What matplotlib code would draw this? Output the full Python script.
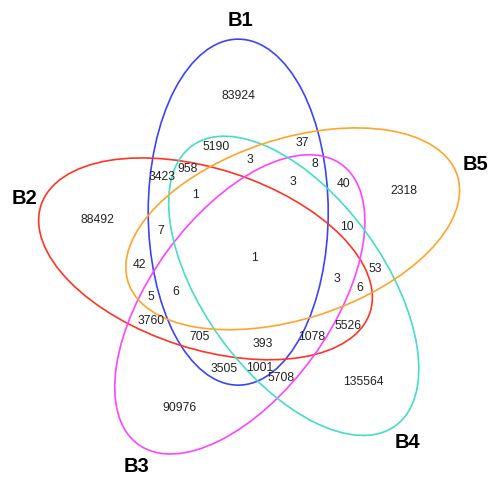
import matplotlib
matplotlib.use("Agg")
import matplotlib.pyplot as plt
from matplotlib.patches import Ellipse
import numpy as np

# ---- data ----
set_names = ["B1", "B2", "B3", "B4", "B5"]
set_colors = ["#3a45f5", "#ff3426", "#ff44ff", "#45dccb", "#ffa52a"]

region_counts = [83924, 5190, 37, 3, 958, 8, 3423, 3, 40, 2318, 1, 88492, 7, 10,
                 1, 42, 53, 3, 6, 5, 6, 3760, 5526, 705, 393, 1078, 3505, 1001,
                 5708, 135564, 90976]

# ---- layout (pixel coordinates) ----
region_pos = [(238, 96), (216, 147), (302, 143), (250, 160), (188, 169), (315, 164),
              (162, 177), (293, 182), (344, 184), (404, 191), (195, 195), (97, 220),
              (161, 231), (347, 227), (254, 258), (139, 265), (375, 269), (337, 279),
              (360, 288), (151, 297), (176, 292), (151, 321), (348, 326), (200, 337),
              (263, 344), (312, 337), (224, 369), (260, 368), (281, 378), (363, 382),
              (179, 408)]
name_pos = [(240, 20), (25, 198), (137, 467), (407, 443), (476, 165)]

W, H = 491, 479
fig = plt.figure(figsize=(W / 100, H / 100), dpi=100)
ax = fig.add_axes([0, 0, 1, 1])
ax.set_xlim(0, W)
ax.set_ylim(H, 0)
ax.axis("off")

cx, cy = 254, 258
r = 48.5
a, b = 173, 90
for i, col in enumerate(set_colors):
    phi = np.deg2rad(109 + 72 * i)
    theta = 90 + 72 * i
    ex = cx + r * np.cos(phi)
    ey = cy - r * np.sin(phi)
    ax.add_patch(Ellipse((ex, ey), 2 * a, 2 * b, angle=-theta, fill=False,
                         edgecolor=col, lw=1.2))

for v, (x, y) in zip(region_counts, region_pos):
    ax.text(x, y, str(v), ha="center", va="center", fontsize=8.7,
            family="Liberation Sans", color="#222222")

for n, (x, y) in zip(set_names, name_pos):
    ax.text(x, y, n, ha="center", va="center", fontsize=14.5, fontweight="bold",
            family="Liberation Sans", color="black")

fig.savefig("out.png", dpi=100)
